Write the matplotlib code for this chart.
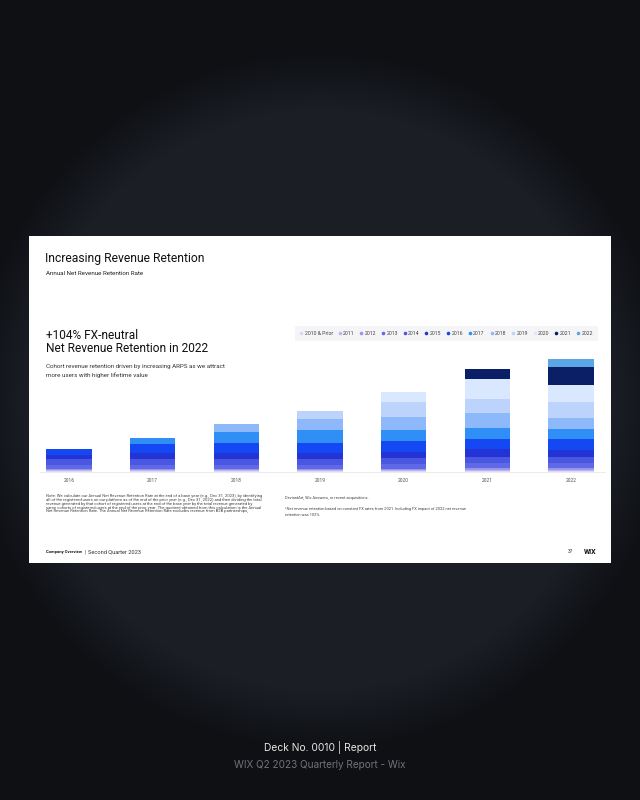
import matplotlib

matplotlib.use("Agg")
import matplotlib.pyplot as plt
import numpy as np
from matplotlib.lines import Line2D
from matplotlib.patches import Rectangle

plt.rcParams["font.family"] = ["Roboto", "DejaVu Sans"]

# Data (unitless heights, one list per cohort)
years = ["2016", "2017", "2018", "2019", "2020", "2021", "2022"]
cohorts = ["2010 & Prior", "2011", "2012", "2013", "2014", "2015", "2016",
           "2017", "2018", "2019", "2020", "2021", "2022"]
c2010p = [0.8, 0.8, 0.8, 0.8, 0.9, 0.9, 0.9]
c2011 = [0.9, 0.9, 0.9, 0.9, 1.0, 1.1, 1.1]
c2012 = [1.2, 1.2, 1.2, 1.2, 1.4, 1.6, 1.6]
c2013 = [4.5, 4.5, 4.5, 4.5, 4.8, 5.4, 5.0]
c2014 = [5.5, 5.5, 5.5, 5.5, 5.9, 6.3, 6.4]
c2015 = [4.6, 6.5, 6.6, 6.4, 6.3, 7.4, 7.0]
c2016 = [5.6, 8.6, 9.4, 10.0, 10.7, 10.3, 10.7]
c2017 = [0, 5.7, 11.3, 12.3, 11.0, 11.3, 10.0]
c2018 = [0, 0, 7.5, 11.0, 13.3, 14.4, 11.6]
c2019 = [0, 0, 0, 8.4, 14.4, 14.3, 15.7]
c2020 = [0, 0, 0, 0, 10.6, 20.0, 17.3]
c2021 = [0, 0, 0, 0, 0, 9.7, 17.7]
c2022 = [0, 0, 0, 0, 0, 0, 7.7]
cohort_values = [c2010p, c2011, c2012, c2013, c2014, c2015, c2016,
                 c2017, c2018, c2019, c2020, c2021, c2022]

colors = ["#dcd9f7", "#bdb8f0", "#9a95ea", "#5f68e6", "#4a57e0", "#2433d6", "#1448f3",
          "#2f8ff7", "#8db8fa", "#bcd3fb", "#d9e8fe", "#0b1f66", "#5aa6e6"]

W, H = 640, 800
fig = plt.figure(figsize=(6.4, 8), dpi=100)

# background: dark page with a soft lighter disc
bg = fig.add_axes([0, 0, 1, 1])
bg.set_xlim(0, W)
bg.set_ylim(H, 0)
bg.axis("off")
yy, xx = np.mgrid[0:H, 0:W]
r = np.hypot(xx - 320, yy - 400)
t = np.clip((r - 290) / 60, 0, 1)
inner = np.array([27, 30, 37]) / 255
outer = np.array([14, 16, 20]) / 255
img = inner[None, None, :] * (1 - t[..., None]) + outer[None, None, :] * t[..., None]
bg.imshow(img, extent=(0, W, H, 0), zorder=0)

# slide
bg.add_patch(Rectangle((29, 236), 582, 327, facecolor="white", edgecolor="none", zorder=1))

bg.text(45, 262, "Increasing Revenue Retention", fontsize=8.7, color="#111111", zorder=2)
bg.text(46, 274.7, "Annual Net Revenue Retention Rate", fontsize=4.5, color="#222222", zorder=2)
bg.text(46, 338.7, "+104% FX-neutral", fontsize=8.6, color="#111111", zorder=2)
bg.text(46, 352.3, "Net Revenue Retention in 2022", fontsize=8.6, color="#111111", zorder=2)
bg.text(46, 368.3, "Cohort revenue retention driven by increasing ARPS as we attract",
        fontsize=4.5, color="#333333", zorder=2)
bg.text(46, 376.7, "more users with higher lifetime value", fontsize=4.5, color="#333333", zorder=2)

note_left = [
    "Note: We calculate our Annual Net Revenue Retention Rate at the end of a base year (e.g., Dec 31, 2023), by identifying",
    "all of the registered users on our platform as of the end of the prior year (e.g., Dec 31, 2022) and then dividing the total",
    "revenue generated by that cohort of registered users at the end of the base year by the total revenue generated by",
    "same cohorts of registered users at the end of the prior year. The quotient obtained from this calculation is the Annual",
    "Net Revenue Retention Rate. The Annual Net Revenue Retention Rate excludes revenue from B2B partnerships,",
]
for i, line in enumerate(note_left):
    bg.text(46, 497.5 + i * 3.7, line, fontsize=3.0, color="#444444", zorder=2)
bg.text(285, 498.5, "DeviantArt, Wix Answers, or recent acquisitions.", fontsize=2.9,
        color="#444444", zorder=2)
bg.text(285, 510, "¹Net revenue retention based on constant FX rates from 2021. Including FX impact of 2022 net revenue",
        fontsize=2.9, color="#444444", zorder=2)
bg.text(285, 515.5, "retention was 102%.", fontsize=2.9, color="#444444", zorder=2)

bg.text(46, 553, "Company Overview", fontsize=3.0, fontweight="bold", color="#111111", zorder=2)
bg.text(84.5, 553, "|", fontsize=3.8, color="#333333", zorder=2)
bg.text(88, 553, "Second Quarter 2023", fontsize=4.1, color="#333333", zorder=2)
bg.text(568, 553, "37", fontsize=3.4, color="#333333", zorder=2)
bg.text(584, 553.5, "WIX", fontsize=5, fontweight="bold", color="#111111", zorder=2)

bg.text(320, 751.5, "Deck No. 0010 | Report", fontsize=7.4, color="#e6e6e6",
        ha="center", zorder=2, family=["Inter", "DejaVu Sans"])
bg.text(320, 767.5, "WIX Q2 2023 Quarterly Report - Wix", fontsize=7.2, color="#6f737a",
        ha="center", zorder=2, family=["Inter", "DejaVu Sans"])

# bars
ax = fig.add_axes([40 / W, 1 - 472 / H, 565 / W, 117 / H])
ax.patch.set_alpha(0)
x = np.arange(len(years))
bottom = np.zeros(len(years))
for name, vals, col in zip(cohorts, cohort_values, colors):
    vals = np.array(vals, dtype=float)
    ax.bar(x, vals, width=0.54, bottom=bottom, color=col, edgecolor="none", label=name)
    bottom += vals
ax.set_xlim(-0.3466, 6.406)
ax.set_ylim(0, 117)
ax.set_yticks([])
ax.set_xticks(x, years)
ax.tick_params(axis="x", length=0, pad=4.5, labelsize=3.5, labelcolor="#555555")
for s in ["top", "left", "right"]:
    ax.spines[s].set_visible(False)
ax.spines["bottom"].set_color("#e8e8e8")
ax.spines["bottom"].set_linewidth(0.6)

handles = [Line2D([], [], marker="o", linestyle="none", markersize=2.6,
                  markerfacecolor=c, markeredgecolor="none") for c in colors]
leg = fig.legend(handles, cohorts, ncol=len(cohorts), loc="center",
                 bbox_to_anchor=(446.5 / W, 1 - 333.5 / H), fontsize=3.7,
                 handlelength=0.5, handletextpad=0.4, columnspacing=1.08,
                 frameon=True, fancybox=True, borderpad=1.0, labelcolor="#444444")
leg.get_frame().set_facecolor("#f3f3f6")
leg.get_frame().set_edgecolor("none")

fig.savefig("out.png", dpi=100)
